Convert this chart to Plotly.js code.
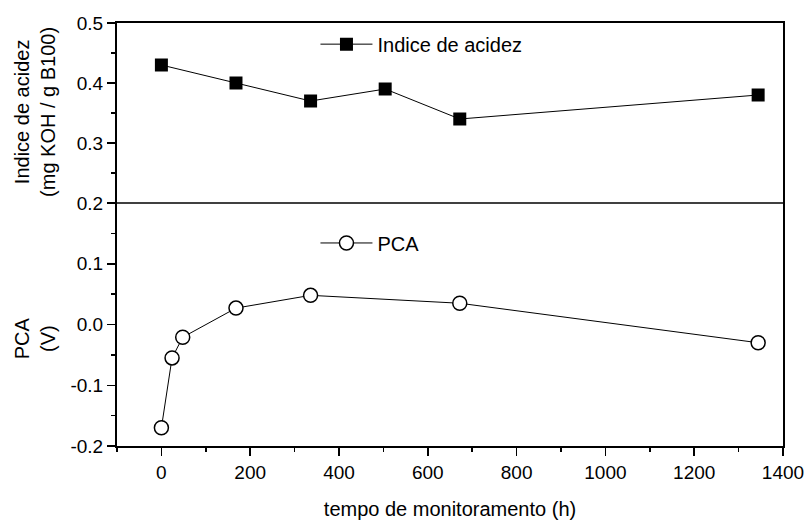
<!DOCTYPE html>
<html>
<head>
<meta charset="utf-8">
<script src="https://cdn.plot.ly/plotly-3.0.1.min.js"></script>
<style>html,body{margin:0;padding:0;background:#fff;}#chart{width:805px;height:523px;}</style>
</head>
<body>
<div id="chart"></div>
<script>
// Data
const acidHours = [0, 168, 336, 504, 672, 1344];
const acidIndex = [0.43, 0.40, 0.37, 0.39, 0.34, 0.38];
const pcaHours = [0, 24, 48, 168, 336, 672, 1344];
const pcaValues = [-0.170, -0.055, -0.021, 0.027, 0.048, 0.035, -0.030];

const acidName = 'Indice de acidez';
const pcaName = 'PCA';
const xTitle = 'tempo de monitoramento (h)';
const yTopTitle = 'Indice de acidez<br>(mg KOH / g B100)';
const yBottomTitle = 'PCA<br>(V)';

const xTickVals = [0, 200, 400, 600, 800, 1000, 1200, 1400];
const xTickText = ['0', '200', '400', '600', '800', '1000', '1200', '1400'];
const yTopTickVals = [0.2, 0.3, 0.4, 0.5];
const yTopTickText = ['0.2', '0.3', '0.4', '0.5'];
const yBotTickVals = [-0.2, -0.1, 0.0, 0.1];
const yBotTickText = ['-0.2', '-0.1', '0.0', '0.1'];

const FONT = 'Liberation Sans, Arial, sans-serif';
const FS = 20;
const TFS = 19;

const traces = [
  {
    x: acidHours, y: acidIndex, name: acidName, type: 'scatter', mode: 'lines+markers',
    xaxis: 'x2', yaxis: 'y2', legend: 'legend',
    line: {color: '#000', width: 1},
    marker: {symbol: 'square', size: 13, color: '#000', line: {color: '#000', width: 0}}
  },
  {
    x: pcaHours, y: pcaValues, name: pcaName, type: 'scatter', mode: 'lines+markers',
    xaxis: 'x', yaxis: 'y', legend: 'legend2',
    line: {color: '#000', width: 1},
    marker: {symbol: 'circle', size: 14, color: '#fff', line: {color: '#000', width: 1.5}}
  }
];

const split = 243 / 423;

const commonY = {
  showline: true, linewidth: 2, linecolor: '#000', mirror: true,
  ticks: 'outside', ticklen: 8, tickwidth: 1.5, tickcolor: '#000',
  minor: {ticks: 'outside', ticklen: 4, tickwidth: 1.5, tickcolor: '#000', dtick: 0.05},
  showgrid: false, zeroline: false,
  tickfont: {family: FONT, size: TFS, color: '#000'}
};

const layout = {
  width: 805, height: 523,
  margin: {l: 117, r: 22, t: 23, b: 77},
  paper_bgcolor: '#fff', plot_bgcolor: '#fff',
  font: {family: FONT, color: '#000'},
  showlegend: true,
  xaxis: {
    domain: [0, 1], anchor: 'y', range: [-100, 1400],
    showline: true, linewidth: 2, linecolor: '#000',
    ticks: 'outside', ticklen: 8, tickwidth: 1.5, tickcolor: '#000',
    minor: {ticks: 'outside', ticklen: 4, tickwidth: 1.5, tickcolor: '#000', dtick: 100, tick0: 0},
    tickmode: 'array', tickvals: xTickVals, ticktext: xTickText,
    ticklabeloverflow: 'allow',
    showgrid: false, zeroline: false,
    tickfont: {family: FONT, size: TFS, color: '#000'},
    title: {text: xTitle, font: {family: FONT, size: FS, color: '#000'}, standoff: 20}
  },
  xaxis2: {
    domain: [0, 1], anchor: 'y2', matches: 'x', side: 'top',
    showline: true, linewidth: 2, linecolor: '#000',
    showticklabels: false, ticks: '', showgrid: false, zeroline: false
  },
  yaxis: Object.assign({}, commonY, {
    domain: [0, split], anchor: 'x', range: [-0.2, 0.2],
    tickmode: 'array', tickvals: yBotTickVals, ticktext: yBotTickText
  }),
  yaxis2: Object.assign({}, commonY, {
    domain: [split, 1], anchor: 'x2', range: [0.2, 0.5],
    tickmode: 'array', tickvals: yTopTickVals, ticktext: yTopTickText
  }),
  legend: {
    x: 0.298, y: 0.95, xanchor: 'left', yanchor: 'middle',
    bgcolor: 'rgba(0,0,0,0)', borderwidth: 0, itemwidth: 52,
    font: {family: FONT, size: FS, color: '#000'}
  },
  legend2: {
    x: 0.298, y: 0.48, xanchor: 'left', yanchor: 'middle',
    bgcolor: 'rgba(0,0,0,0)', borderwidth: 0, itemwidth: 52,
    font: {family: FONT, size: FS, color: '#000'}
  },
  annotations: [
    {text: yTopTitle, xref: 'paper', yref: 'paper', x: -0.123, y: 0.79,
     xanchor: 'center', yanchor: 'middle', textangle: -90, showarrow: false,
     font: {family: FONT, size: FS, color: '#000'}},
    {text: yBottomTitle, xref: 'paper', yref: 'paper', x: -0.123, y: 0.255,
     xanchor: 'center', yanchor: 'middle', textangle: -90, showarrow: false,
     font: {family: FONT, size: FS, color: '#000'}}
  ],
  shapes: [
    {type: 'line', xref: 'x domain', yref: 'y domain', x0: 0, x1: 1, y0: 1, y1: 1,
     line: {color: '#000', width: 1.5}}
  ]
};

Plotly.newPlot('chart', traces, layout, {displayModeBar: false, staticPlot: true});
</script>
</body>
</html>
